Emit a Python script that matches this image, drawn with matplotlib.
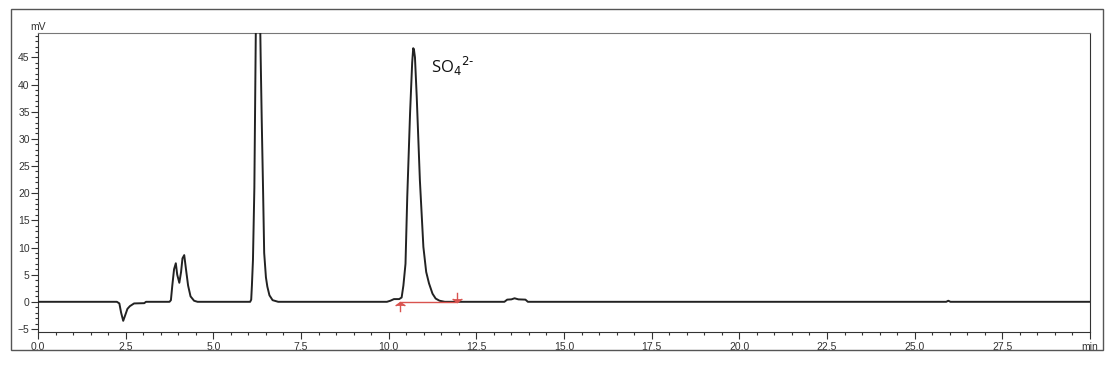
import numpy as np
import matplotlib.pyplot as plt
from matplotlib.patches import Rectangle
from matplotlib.path import Path

plt.rcParams['font.family'] = ['Liberation Sans', 'DejaVu Sans']

# chromatogram trace (time in min, signal in mV)
time = [0.0, 2.25, 2.32, 2.37, 2.43, 2.48, 2.55, 2.62, 2.74, 3.03, 3.08,
        3.75, 3.79, 3.83, 3.88, 3.93, 3.97, 4.03, 4.08, 4.12, 4.17, 4.22, 4.28, 4.35, 4.45, 4.55,
        6.05, 6.08, 6.10, 6.13, 6.17, 6.21, 6.27, 6.35, 6.38, 6.42, 6.45, 6.50, 6.54, 6.60, 6.69, 6.85,
        9.95, 10.05, 10.15, 10.3, 10.37, 10.42, 10.48, 10.53, 10.61, 10.67, 10.70, 10.72, 10.75,
        10.80, 10.89, 10.99, 11.07, 11.15, 11.25, 11.34, 11.45, 11.6,
        13.3, 13.38, 13.5, 13.59, 13.7, 13.9, 13.97,
        25.9, 25.96, 26.02, 30.0]
signal = [0.0, 0.0, -0.3, -2.0, -3.5, -2.6, -1.3, -0.8, -0.3, -0.25, 0.0,
          0.0, 0.3, 3.0, 6.0, 7.1, 5.0, 3.5, 5.5, 8.0, 8.6, 6.0, 3.0, 1.0, 0.2, 0.0,
          0.0, 0.4, 3.0, 7.7, 21.0, 49.0, 80.0, 45.0, 33.5, 20.0, 9.0, 4.5, 2.8, 1.2, 0.3, 0.0,
          0.0, 0.2, 0.5, 0.5, 0.8, 3.0, 7.0, 19.3, 34.7, 44.0, 46.7, 46.5, 45.0,
          37.8, 22.4, 10.1, 5.5, 3.4, 1.5, 0.6, 0.2, 0.0,
          0.0, 0.4, 0.45, 0.65, 0.45, 0.4, 0.0,
          0.0, 0.2, 0.0, 0.0]

# integration baseline of the sulfate peak
base_t = [10.32, 11.96]
base_v = [0.0, 0.0]

peak_label = r'SO$_4$$^{2\text{-}}$'
label_t, label_v = 11.22, 42.2

x_major = np.arange(0, 30.1, 2.5)
x_labels = ['%.1f' % v for v in x_major[:-1]] + ['min']
y_major = np.arange(-5, 46, 5)

fig = plt.figure(figsize=(11.09, 3.69), dpi=100)
fig.add_artist(Rectangle((11 / 1109, 1 - 350 / 369), 1092 / 1109, 341 / 369,
                         transform=fig.transFigure, fill=False, ec='#555555', lw=1.0))

ax = fig.add_axes([38 / 1109, 1 - 332 / 369, 1052 / 1109, 299 / 369])
ax.plot(time, signal, color='#222222', lw=1.4, zorder=3)

# arrow-like markers at the ends of the baseline
up_arrow = Path([(0, 0), (0, -1), (-0.5, -0.35), (0, 0), (0.5, -0.35)],
                [Path.MOVETO, Path.LINETO, Path.MOVETO, Path.LINETO, Path.LINETO])
down_arrow = Path([(0, 0), (0, 1), (-0.5, 0.35), (0, 0), (0.5, 0.35)],
                  [Path.MOVETO, Path.LINETO, Path.MOVETO, Path.LINETO, Path.LINETO])
ax.plot(base_t, base_v, color='#d9534f', lw=1.0, zorder=4)
ax.plot(base_t[0], base_v[0], marker=up_arrow, ms=14, color='#d9534f', mew=1.0, zorder=4)
ax.plot(base_t[1], base_v[1], marker=down_arrow, ms=14, color='#d9534f', mew=1.0, zorder=4)

ax.text(label_t, label_v, peak_label, fontsize=12, family=['Open Sans', 'DejaVu Sans'],
        color='#111111')

ax.set_xlim(0, 30)
ax.set_ylim(-5.56, 49.5)
ax.set_xticks(x_major)
ax.set_xticklabels(x_labels)
ax.set_xticks(np.arange(0, 30.1, 0.5), minor=True)
ax.set_yticks(y_major)
ax.set_yticks(np.arange(-5, 50, 1), minor=True)
ax.tick_params(which='major', length=5, width=0.8, labelsize=7.5, colors='#333333', pad=2)
ax.tick_params(which='minor', length=2.5, width=0.8, colors='#333333')
ax.tick_params(axis='y', pad=1)
for side in ['left', 'bottom', 'right']:
    ax.spines[side].set_color('#333333')
ax.spines['top'].set_color('#777777')
ax.text(0.0, 1.002, 'mV', transform=ax.transAxes, fontsize=7.5, color='#333333',
        ha='center', va='bottom')

fig.savefig('out.png', dpi=100)
